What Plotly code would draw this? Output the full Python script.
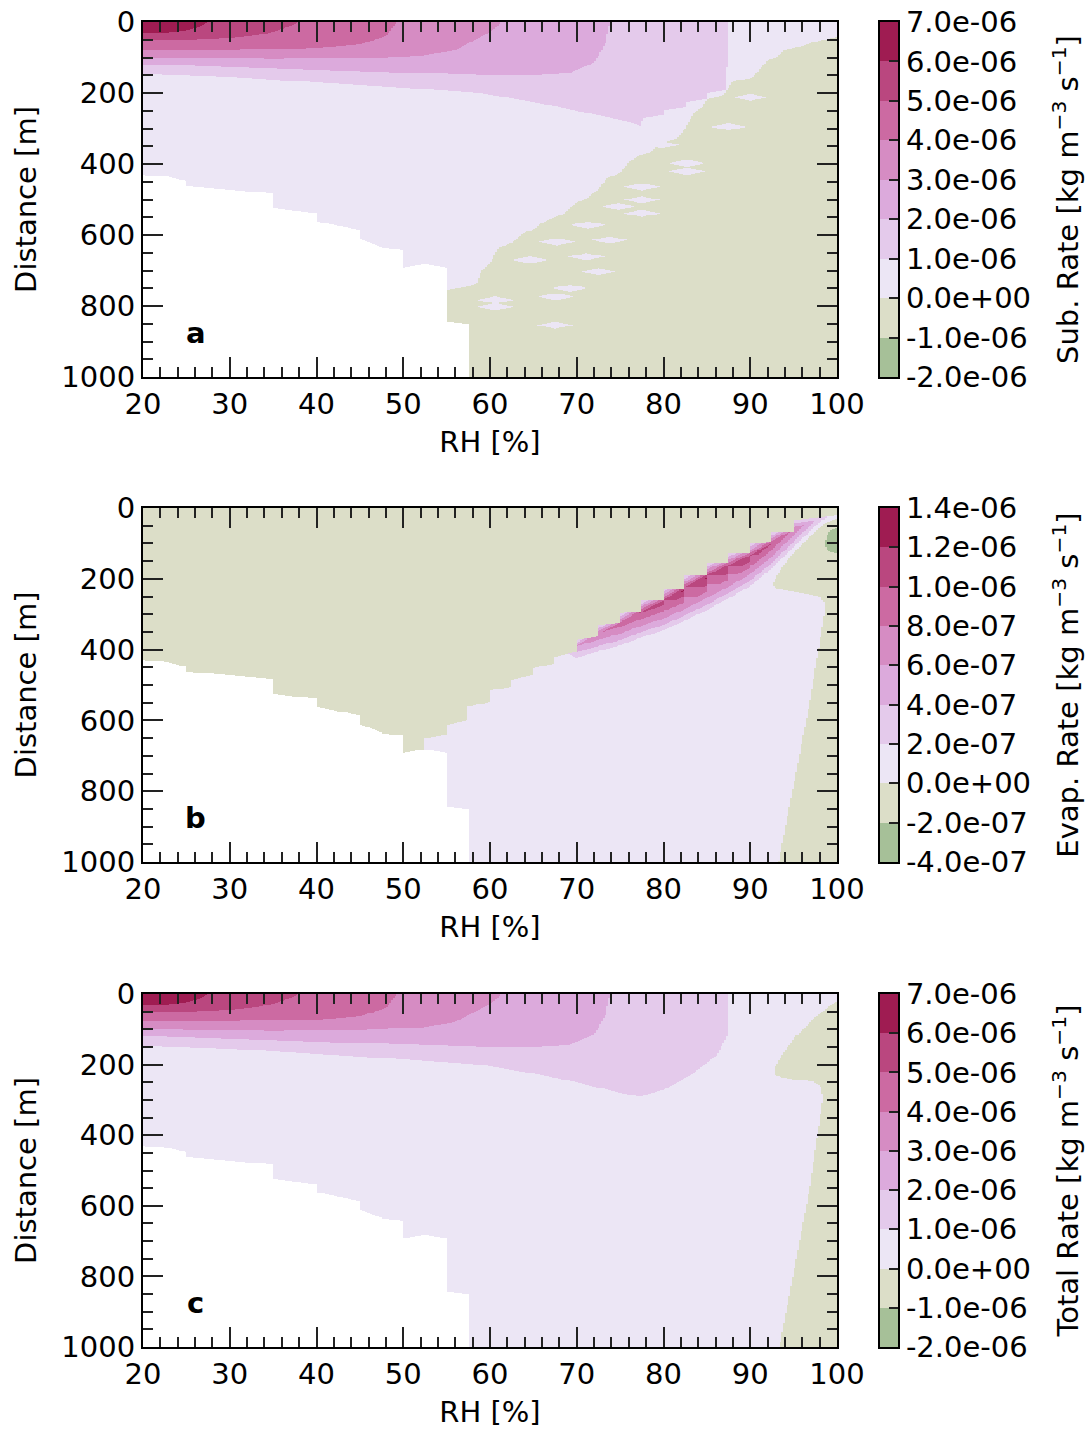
import numpy as np
import plotly.graph_objects as go

# ---------------- values ----------------
RH_TICKS = [20, 30, 40, 50, 60, 70, 80, 90, 100]
DIST_TICKS = [0, 200, 400, 600, 800, 1000]
SUB_LABELS = ["-2.0e-06", "-1.0e-06", "0.0e+00", "1.0e-06", "2.0e-06", "3.0e-06",
              "4.0e-06", "5.0e-06", "6.0e-06", "7.0e-06"]
EVAP_LABELS = ["-4.0e-07", "-2.0e-07", "0.0e+00", "2.0e-07", "4.0e-07", "6.0e-07",
               "8.0e-07", "1.0e-06", "1.2e-06", "1.4e-06"]
TOTAL_LABELS = SUB_LABELS
BAND_COLORS = ["#a6c098", "#dcdec8", "#ece6f5", "#e4caeb", "#dcaadc",
               "#d68cc3", "#cc6aa2", "#ba477f", "#9f1c52"]
BAND_MIDS = [0.5, 1.5, 2.5, 3.5, 4.5, 5.5, 6.5, 7.5, 8.5]

# edge of the no-data (white) region, distance vs RH
WHITE_RH = [20, 22.3, 24.9, 25.0, 35.0, 35.1, 40.0, 40.1, 45.0, 45.1, 47.5, 47.6,
            50.0, 50.1, 52.5, 55.0, 55.1, 57.5, 57.6, 100]
WHITE_D = [431, 433, 447, 462, 483, 525, 539, 562, 586, 612, 633, 637,
           642, 692, 682, 692, 844, 851, 1100, 1100]

# positive contour levels (1e-6 .. 6e-6) of the sublimation / total rate
C6_RH = [20, 23, 25, 26.5, 27.5];               C6_D = [30, 29, 24, 14, 0]
C5_RH = [20, 25, 30, 33, 35, 37, 38];           C5_D = [51, 50, 45, 38, 28, 12, 0]
C4_RH = [20, 35, 40, 45, 48, 49.3];             C4_D = [77, 76, 73, 63, 40, 0]
C3_RH = [20, 35, 45, 52, 56, 58.8, 60.5, 61.3]; C3_D = [100, 104, 102, 95, 80, 45, 20, 0]
C2_RH = [20, 40, 58.8, 65, 69, 72, 73.3, 73.8]; C2_D = [119, 135, 149, 150, 145, 115, 60, 0]
C1A_RH = [20, 30, 40, 50, 58.8, 65, 70, 75, 77.4, 77.6, 80, 80.1, 82.5, 82.6, 85, 85.1, 87.2, 87.5]
C1A_D = [147, 155, 170, 185, 200, 225, 250, 275, 292, 270, 262, 248, 240, 225, 217, 200, 192, 0]
C1C_RH = [20, 30, 40, 50, 58.8, 65, 70, 75, 77.3, 80.4, 83.4, 86.2, 87.3, 87.5]
C1C_D = [147, 155, 170, 185, 200, 225, 250, 280, 291, 268, 225, 172, 120, 0]

# negative (olive) region of panel a, outline in (RH, distance)
OLIVE_A_RH = [100.5, 97.5, 96, 95, 94, 93, 92, 90.5, 90, 88, 87, 86, 85, 84.5, 83.5, 82.5,
              81.5, 79.5, 78.5, 77, 76, 75, 73.5, 72.5, 71, 70, 68.5, 67.5, 66, 65, 64,
              62.5, 61, 60, 59, 58.5, 57.5, 55, 55, 57.5, 57.5, 100.5]
OLIVE_A_D = [40, 55, 68, 72, 78, 100, 108, 150, 160, 165, 205, 212, 218, 240, 255, 300,
             330, 342, 368, 378, 395, 425, 440, 470, 500, 508, 540, 550, 565, 585, 592,
             622, 635, 680, 700, 735, 745, 755, 844, 851, 1010, 1010]
# small positive pockets inside it
POCKET_A_RH = [90, 87.5, 79.8, 82.7, 82.7, 77.5, 77.5, 74.8, 77.5, 71.3, 73.8, 67.7,
               71.1, 64.6, 72.5, 69.2, 67.6, 60.6, 60.6, 67.5]
POCKET_A_D = [212, 295, 346, 398, 421, 464, 501, 520, 539, 572, 614, 619,
              661, 670, 703, 750, 774, 783, 802, 854]

# negative region of panel c
OLIVE_C_RH = [100.5, 99.8, 97.5, 95, 93.5, 92.7, 92.8, 93.5, 95, 97.3, 98.1, 98.4, 96.9, 93.3, 100.5]
OLIVE_C_D = [18, 22, 65, 126, 180, 215, 228, 236, 242, 248, 262, 291, 542, 1010, 1010]

# panel b: zero contour (negative above it)
ZERO_B_RH = [20, 52.4, 52.5, 54.95, 55.0, 57.45, 57.5, 59.95, 60.0, 62.45, 62.5, 64.95,
             65.0, 67.45, 67.5, 69.95, 70.0, 72.45, 72.5, 74.95, 75.0, 77.45, 77.5,
             79.95, 80.0, 82.45, 82.5, 84.95, 85.0, 87.45, 87.5, 89.95, 90.0, 92.45,
             92.5, 94.95, 95.0, 98.5, 100]
ZERO_B_D = [1100, 1100, 651, 642, 613, 600, 561, 548, 515, 505, 485, 472,
            452, 440, 420, 406, 372, 363, 330, 325, 297, 293, 260,
            260, 227, 227, 189, 189, 156, 156, 128, 128, 100, 95,
            67, 67, 34, 24, 20]
# panel b: positive evaporation band, upper and lower edge of each level (2e-7 .. 1.2e-6)
BAND_RH = [69, 70, 72.5, 75, 77.5, 80, 82.5, 85, 87.5, 90, 92.5, 95, 97.5, 98.8]
BOT02_D = [410, 423, 405, 388, 365, 345, 318, 288, 255, 220, 170, 110, 50, 26]
TOP04_D = [420, 382, 340, 307, 270, 237, 199, 166, 138, 110, 77, 44, 36, 34]
BOT04_D = [395, 408, 390, 373, 350, 330, 303, 273, 240, 205, 155, 95, 35, 11]
TOP06_D = [428, 390, 348, 315, 278, 245, 207, 174, 146, 118, 85, 52, 44, 42]
BOT06_D = [377, 390, 372, 355, 332, 312, 285, 255, 222, 187, 137, 77, 17, 0]
TOP08_D = [436, 398, 356, 323, 286, 253, 215, 182, 154, 126, 93, 60, 52, 50]
BOT08_D = [358, 371, 353, 336, 313, 293, 266, 236, 203, 168, 118, 58, 0, 0]
TOP10_D = [443, 405, 363, 330, 293, 260, 222, 189, 161, 133, 100, 67, 59, 57]
BOT10_D = [340, 353, 335, 318, 295, 275, 248, 218, 185, 150, 100, 40, 0, 0]
TOP12_D = [451, 413, 371, 338, 301, 268, 230, 197, 169, 141, 108, 75, 67, 65]
BOT12_D = [325, 338, 320, 303, 280, 260, 233, 203, 170, 135, 85, 25, 0, 0]
# greatest distance below the zero contour reached by levels 0.8, 1.0, 1.2 (e-6)
REACH_BELOW_ZERO = [60, 34, 12]
# panel b: negative region on the right, and the strongest negative pocket
OLIVE_B_RH = [100.5, 98.5, 96.5, 94.5, 93.2, 92.6, 92.8, 93.5, 96, 98, 98.6, 98.6, 96.9, 93.2, 100.5]
OLIVE_B_D = [25, 45, 90, 140, 185, 215, 225, 230, 240, 250, 268, 290, 542, 1010, 1010]
GREEN_B_RH = [100.5, 99.3, 98.8, 98.6, 98.8, 99.4, 100.5]
GREEN_B_D = [55, 62, 78, 100, 118, 126, 128]

# ---------------- grid ----------------
XC = np.arange(400) * 0.2 + 20.1
YC = np.arange(400) * 2.5 + 1.25
X, Y = np.meshgrid(XC, YC)


def inside(px, py):
    px = np.asarray(px, float); py = np.asarray(py, float)
    res = np.zeros(X.shape, bool)
    n = len(px)
    j = n - 1
    for i in range(n):
        xi, yi, xj, yj = px[i], py[i], px[j], py[j]
        if yi != yj:
            cond = ((yi > Y) != (yj > Y)) & (X < (xj - xi) * (Y - yi) / (yj - yi) + xi)
            res ^= cond
        j = i
    return res


def depth(rh, d, right=0.0):
    return np.interp(X, rh, d, right=right)


def white_mask():
    return Y > depth(WHITE_RH, WHITE_D, right=1100)


def rate_panel(c1rh, c1d):
    z = np.full(X.shape, 2.0)
    for rh, d in [(c1rh, c1d), (C2_RH, C2_D), (C3_RH, C3_D), (C4_RH, C4_D),
                  (C5_RH, C5_D), (C6_RH, C6_D)]:
        z += (Y < depth(rh, d))
    return z


# panel a
za = rate_panel(C1A_RH, C1A_D)
za[inside(OLIVE_A_RH, OLIVE_A_D)] = 1
for cx, cy in zip(POCKET_A_RH, POCKET_A_D):
    za[np.abs(X - cx) / 2.1 + np.abs(Y - cy) / 10.0 <= 1] = 2
za[white_mask()] = np.nan

# panel c
zc = rate_panel(C1C_RH, C1C_D)
zc[inside(OLIVE_C_RH, OLIVE_C_D)] = 1
zc[white_mask()] = np.nan

# panel b
zb = np.full(X.shape, 2.0)
dz = depth(ZERO_B_RH, ZERO_B_D, right=20)
zb[Y < dz] = 1
below = Y >= dz
bot02 = np.interp(X, BAND_RH, BOT02_D, left=0, right=0)
zb += below & (Y < bot02)
reach = [None, None] + REACH_BELOW_ZERO
for k, (top_d, bot_d) in enumerate([(TOP04_D, BOT04_D), (TOP06_D, BOT06_D), (TOP08_D, BOT08_D),
                                    (TOP10_D, BOT10_D), (TOP12_D, BOT12_D)]):
    t = np.interp(X, BAND_RH, top_d, left=2000, right=2000)
    b = np.interp(X, BAND_RH, bot_d, left=0, right=0)
    if reach[k] is not None:
        b = np.minimum(b, dz + reach[k])
    zb += below & (Y >= t) & (Y < b)
zb[inside(OLIVE_B_RH, OLIVE_B_D)] = 1
zb[inside(GREEN_B_RH, GREEN_B_D)] = 0
zb[white_mask()] = np.nan

UNIT = " [kg m<sup>\u22123</sup> s<sup>\u22121</sup>]"
panels = [(za + 0.5, SUB_LABELS, "Sub. Rate" + UNIT, "a"),
          (zb + 0.5, EVAP_LABELS, "Evap. Rate" + UNIT, "b"),
          (zc + 0.5, TOTAL_LABELS, "Total Rate" + UNIT, "c")]

# ---------------- figure ----------------
W, H = 1091, 1431
FONT = "DejaVu Sans"
FS = 29
TICKC = "#222"
cs = []
nb = len(BAND_COLORS)
for i, c in enumerate(BAND_COLORS):
    cs.append([i / nb, c]); cs.append([(i + 1) / nb, c])

x_dom = [143 / W, 837 / W]
cb_dom = [880 / W, 898 / W]
y_px = [(22, 377), (508, 862), (994, 1347)]

fig = go.Figure()
layout = dict(width=W, height=H, margin=dict(l=0, r=0, t=0, b=0, autoexpand=False),
              paper_bgcolor="white", plot_bgcolor="white",
              font=dict(family=FONT, size=FS, color="black"), showlegend=False)
annotations = []
line_common = dict(showline=True, linewidth=2.2, linecolor="black", showgrid=False,
                   zeroline=False, tickfont=dict(family=FONT, size=FS, color="black"))
for i, (z, labels, ctitle, letter) in enumerate(panels):
    n_main = 2 * i + 1
    n_bar = 2 * i + 2
    sm = "" if n_main == 1 else str(n_main)
    sb = str(n_bar)
    top, bot = y_px[i]
    ydom = [1 - bot / H, 1 - top / H]
    # main field
    fig.add_trace(go.Heatmap(
        x=XC, y=YC, z=z, zmin=0, zmax=9, colorscale=cs, zsmooth=False,
        showscale=False, hoverinfo="skip", xaxis="x" + sm, yaxis="y" + sm))
    # colour bar as its own small heatmap
    fig.add_trace(go.Heatmap(
        x=[0.5], y=BAND_MIDS, z=[[v] for v in BAND_MIDS], zmin=0, zmax=9,
        colorscale=cs, showscale=False, hoverinfo="skip",
        xaxis="x" + sb, yaxis="y" + sb))
    layout["xaxis" + sm] = dict(domain=x_dom, anchor="y" + sm, range=[20, 100],
                                tickvals=RH_TICKS, ticks="inside", ticklen=20,
                                tickwidth=2, tickcolor=TICKC, mirror="allticks",
                                minor=dict(tick0=20, dtick=2, ticklen=10, tickwidth=2,
                                           tickcolor=TICKC, ticks="inside"),
                                title=dict(text="RH [%]", standoff=12,
                                           font=dict(family=FONT, size=FS)), **line_common)
    layout["yaxis" + sm] = dict(domain=ydom, anchor="x" + sm, range=[1000, 0],
                                tickvals=DIST_TICKS, ticks="inside", ticklen=20,
                                tickwidth=2, tickcolor=TICKC, mirror="allticks",
                                minor=dict(tick0=0, dtick=50, ticklen=10, tickwidth=2,
                                           tickcolor=TICKC, ticks="inside"),
                                title=dict(text="Distance [m]", standoff=16,
                                           font=dict(family=FONT, size=FS)), **line_common)
    layout["xaxis" + sb] = dict(domain=cb_dom, anchor="y" + sb, range=[0, 1],
                                showticklabels=False, ticks="", mirror=True, **line_common)
    layout["yaxis" + sb] = dict(domain=ydom, anchor="x" + sb, range=[0, 9], side="right",
                                tickvals=list(range(10)), ticktext=labels,
                                ticks="inside", ticklen=9, tickwidth=1.5, tickcolor=TICKC,
                                mirror=True,
                                title=dict(text=ctitle, standoff=28,
                                           font=dict(family=FONT, size=FS)), **line_common)
    annotations.append(dict(text="<b>%s</b>" % letter, x=26.1, y=875, xref="x" + sm,
                            yref="y" + sm, showarrow=False,
                            font=dict(family=FONT, size=FS, color="black")))
layout["annotations"] = annotations
fig.update_layout(**layout)
fig.write_html("out.html")
